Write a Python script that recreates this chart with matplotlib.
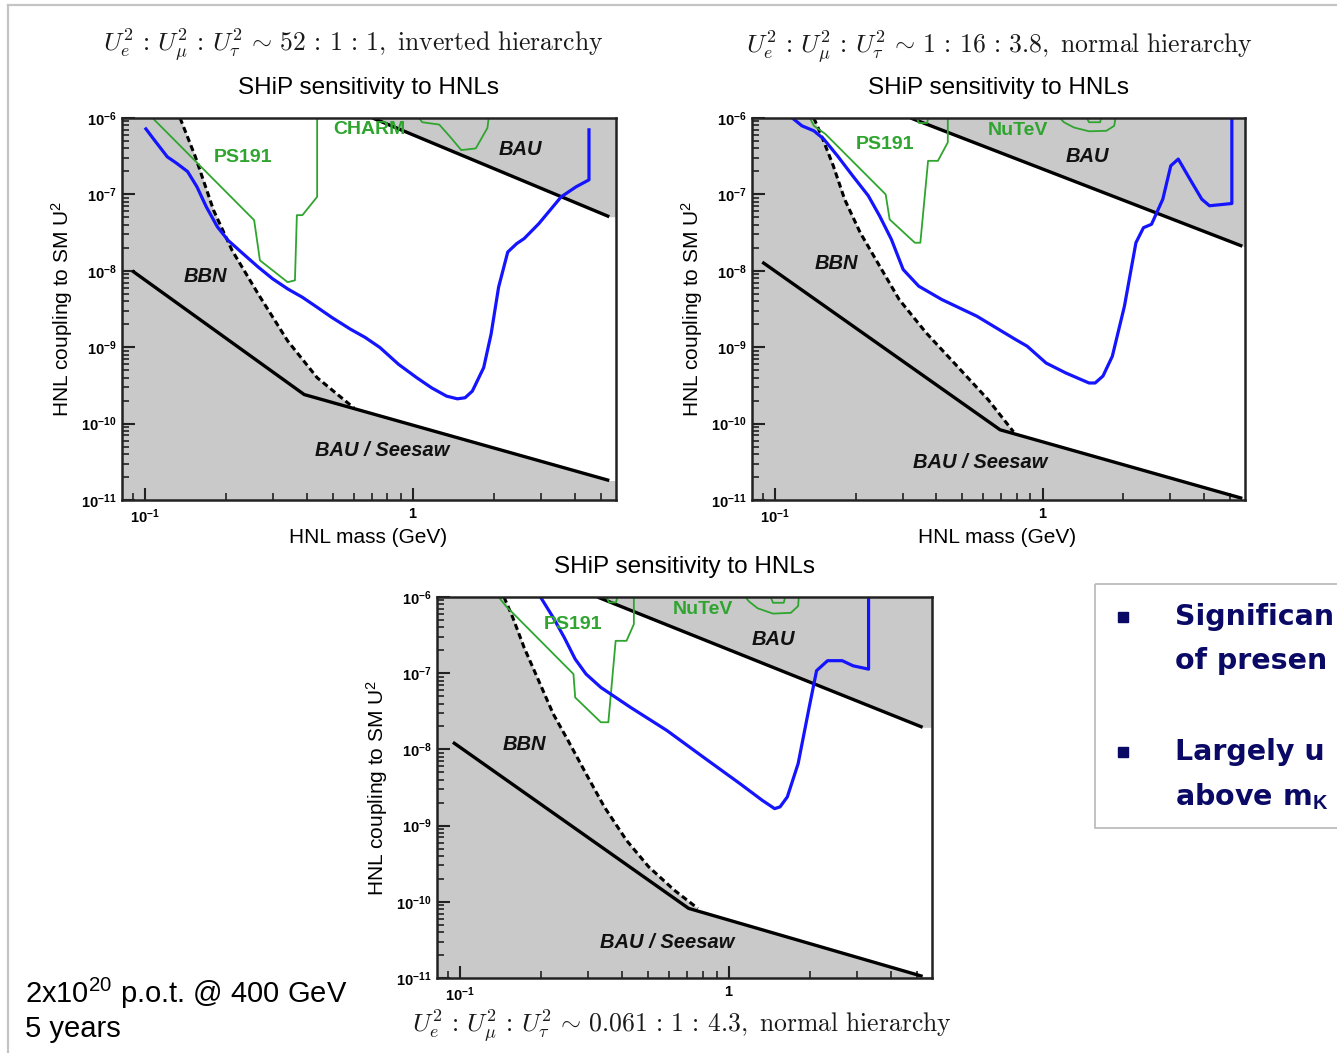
import numpy as np
import matplotlib
matplotlib.use('Agg')
import matplotlib.pyplot as plt
from matplotlib.ticker import LogLocator, FixedLocator, FixedFormatter, NullFormatter, FuncFormatter
from matplotlib.patches import Rectangle

plt.rcParams['font.family'] = ['Liberation Sans', 'DejaVu Sans']
plt.rcParams['mathtext.fontset'] = 'custom'
plt.rcParams['mathtext.rm'] = 'Liberation Sans'
plt.rcParams['mathtext.it'] = 'Liberation Sans:italic'
plt.rcParams['mathtext.bf'] = 'Liberation Sans:bold'

# ---------------- data: panel 1 (inverted hierarchy 52:1:1) ----------------
p1_sens_m = [0.1007, 0.108, 0.121, 0.131, 0.144, 0.156, 0.169, 0.186, 0.204, 0.232, 0.264, 0.299, 0.340,
             0.386, 0.438, 0.497, 0.583, 0.662, 0.751, 0.881, 1.03, 1.17, 1.33, 1.46, 1.56, 1.66, 1.83,
             1.95, 2.08, 2.25, 2.43, 2.59, 2.94, 3.56, 4.05, 4.52, 4.52]
p1_sens_u = [7.2e-7, 5.2e-7, 3.1e-7, 2.56e-7, 1.99e-7, 1.26e-7, 6.9e-8, 3.76e-8, 2.5e-8, 1.67e-8, 1.12e-8,
             7.85e-9, 5.8e-9, 4.5e-9, 3.33e-9, 2.45e-9, 1.72e-9, 1.34e-9, 9.9e-10, 5.97e-10, 3.99e-10,
             2.94e-10, 2.29e-10, 2.11e-10, 2.18e-10, 2.66e-10, 5.4e-10, 1.48e-9, 6.1e-9, 1.76e-8, 2.27e-8,
             2.64e-8, 4.15e-8, 9.3e-8, 1.26e-7, 1.55e-7, 7.0e-7]
p1_ps191_m = [0.1066, 0.255, 0.268, 0.340, 0.362, 0.368, 0.386, 0.438, 0.438]
p1_ps191_u = [1e-6, 4.6e-8, 1.37e-8, 7.1e-9, 7.5e-9, 5.35e-8, 5.35e-8, 9.3e-8, 1e-6]
p1_charm_m = [1.05, 1.08, 1.25, 1.37, 1.51, 1.71, 1.89, 1.91]
p1_charm_u = [1e-6, 8.8e-7, 8.2e-7, 5.7e-7, 3.8e-7, 4.0e-7, 7.4e-7, 1e-6]
p1_bbn_m = [0.135, 0.154, 0.180, 0.211, 0.264, 0.340, 0.438, 0.601]
p1_bbn_u = [1e-6, 3.1e-7, 6.2e-8, 1.85e-8, 4.98e-9, 1.21e-9, 3.99e-10, 1.6e-10]
p1_bau_m = [0.705, 5.38]
p1_bau_u = [1e-6, 5.1e-8]
p1_seesaw_m = [0.0895, 0.392, 5.38]
p1_seesaw_u = [1.0e-8, 2.4e-10, 1.8e-11]

# ---------------- data: panel 2 (normal hierarchy 1:16:3.8) ----------------
p2_sens_m = [0.116, 0.126, 0.1396, 0.152, 0.171, 0.195, 0.223, 0.246, 0.272, 0.301, 0.344, 0.420, 0.567,
             0.792, 0.875, 1.03, 1.22, 1.49, 1.57, 1.68, 1.82, 2.02, 2.23, 2.38, 2.55, 2.81, 3.01, 3.21,
             3.55, 3.93, 4.20, 5.09, 5.09]
p2_sens_u = [1e-6, 7.9e-7, 6.8e-7, 5.3e-7, 3.2e-7, 1.75e-7, 9.6e-8, 5.2e-8, 2.58e-8, 1.04e-8, 6.3e-9,
             4.2e-9, 2.55e-9, 1.26e-9, 1.03e-9, 6.2e-10, 4.6e-10, 3.4e-10, 3.4e-10, 4.2e-10, 7.6e-10,
             3.44e-9, 2.33e-8, 3.67e-8, 4.06e-8, 8.65e-8, 2.37e-7, 2.9e-7, 1.58e-7, 8.65e-8, 7.1e-8,
             7.6e-8, 1e-6]
p2_ps191_m = [0.135, 0.1396, 0.154, 0.259, 0.268, 0.333, 0.349, 0.373, 0.406, 0.442, 0.442]
p2_ps191_u = [1e-6, 7.9e-7, 6.2e-7, 1.0e-7, 4.7e-8, 2.33e-8, 2.33e-8, 2.75e-7, 2.75e-7, 4.8e-7, 1e-6]
p2_ps191b_m = [0.338, 0.345, 0.370, 0.373]
p2_ps191b_u = [1e-6, 8.6e-7, 8.6e-7, 1e-6]
p2_nutev_m = [1.16, 1.20, 1.31, 1.49, 1.73, 1.85, 1.87]
p2_nutev_u = [1e-6, 8.8e-7, 7.5e-7, 6.7e-7, 6.8e-7, 7.9e-7, 1e-6]
p2_nutevb_m = [1.46, 1.49, 1.64, 1.65]
p2_nutevb_u = [1e-6, 8.8e-7, 8.8e-7, 1e-6]
p2_bbn_m = [0.1396, 0.149, 0.165, 0.182, 0.208, 0.246, 0.291, 0.367, 0.480, 0.626, 0.778]
p2_bbn_u = [1e-6, 5.9e-7, 2.37e-7, 8.6e-8, 3.16e-8, 1.15e-8, 4.2e-9, 1.54e-9, 5.6e-10, 2.05e-10, 7.8e-11]
p2_bau_m = [0.321, 5.57]
p2_bau_u = [1e-6, 2.1e-8]
p2_seesaw_m = [0.0896, 0.693, 5.57]
p2_seesaw_u = [1.3e-8, 8.3e-11, 1.05e-11]

# ---------------- data: panel 3 (normal hierarchy 0.061:1:4.3) ----------------
p3_sens_m = [0.199, 0.222, 0.244, 0.268, 0.294, 0.334, 0.430, 0.588, 0.804, 1.10, 1.33, 1.48, 1.55,
             1.65, 1.81, 1.99, 2.12, 2.33, 2.64, 2.90, 3.31, 3.31]
p3_sens_u = [1e-6, 5.37e-7, 2.94e-7, 1.53e-7, 9.75e-8, 6.5e-8, 3.57e-8, 1.77e-8, 7.9e-9, 3.55e-9,
             2.15e-9, 1.67e-9, 1.76e-9, 2.38e-9, 6.5e-9, 3.57e-8, 1.08e-7, 1.46e-7, 1.46e-7, 1.25e-7,
             1.13e-7, 1e-6]
p3_ps191_m = [0.139, 0.148, 0.264, 0.268, 0.334, 0.356, 0.379, 0.416, 0.443, 0.443]
p3_ps191_u = [1e-6, 7.6e-7, 9.75e-8, 4.8e-8, 2.27e-8, 2.27e-8, 2.66e-7, 2.66e-7, 4.4e-7, 1e-6]
p3_ps191b_m = [0.350, 0.358, 0.380, 0.385]
p3_ps191b_u = [1e-6, 8.5e-7, 8.5e-7, 1e-6]
p3_nutev_m = [1.15, 1.19, 1.28, 1.46, 1.70, 1.81, 1.82]
p3_nutev_u = [1e-6, 8.7e-7, 7.1e-7, 6.05e-7, 6.2e-7, 7.6e-7, 1e-6]
p3_nutevb_m = [1.43, 1.46, 1.60, 1.62]
p3_nutevb_u = [1e-6, 8.4e-7, 8.4e-7, 1e-6]
p3_bbn_m = [0.1456, 0.157, 0.173, 0.196, 0.222, 0.252, 0.294, 0.344, 0.416, 0.502, 0.625, 0.766]
p3_bbn_u = [1e-6, 5.37e-7, 2.17e-7, 7.96e-8, 2.92e-8, 1.31e-8, 4.8e-9, 1.76e-9, 6.4e-10, 2.9e-10,
            1.43e-10, 8.2e-11]
p3_bau_m = [0.324, 5.26]
p3_bau_u = [1e-6, 1.95e-8]
p3_seesaw_m = [0.094, 0.708, 5.26]
p3_seesaw_u = [1.24e-8, 8.2e-11, 1.05e-11]

# region labels: (text, mass, U2, colour key)
p1_labels = [('PS191', 0.232, 3.0e-7, 'g'), ('CHARM', 0.684, 7.0e-7, 'g'), ('BAU', 2.5, 3.9e-7, 'k'),
             ('BBN', 0.168, 8.3e-9, 'k'), ('BAU / Seesaw', 0.766, 4.5e-11, 'k')]
p2_labels = [('PS191', 0.257, 4.5e-7, 'g'), ('NuTeV', 0.81, 6.9e-7, 'g'), ('BAU', 1.47, 3.1e-7, 'k'),
             ('BBN', 0.170, 1.23e-8, 'k'), ('BAU / Seesaw', 0.584, 3.1e-11, 'k')]
p3_labels = [('PS191', 0.264, 4.4e-7, 'g'), ('NuTeV', 0.80, 6.9e-7, 'g'), ('BAU', 1.46, 2.8e-7, 'k'),
             ('BBN', 0.173, 1.17e-8, 'k'), ('BAU / Seesaw', 0.588, 2.9e-11, 'k')]

titles_math = [r'$U_e^2 \,:\, U_\mu^2 \,:\, U_\tau^2 \,\sim\, 52 \,:\, 1 \,:\, 1,\ \mathrm{inverted\ hierarchy}$',
               r'$U_e^2 \,:\, U_\mu^2 \,:\, U_\tau^2 \,\sim\, 1 \,:\, 16 \,:\, 3.8,\ \mathrm{normal\ hierarchy}$',
               r'$U_e^2 \,:\, U_\mu^2 \,:\, U_\tau^2 \,\sim\, 0.061 \,:\, 1 \,:\, 4.3,\ \mathrm{normal\ hierarchy}$']
panel_title = 'SHiP sensitivity to HNLs'
xlabel = 'HNL mass (GeV)'
ylabel = 'HNL coupling to SM U$^2$'
xtick_vals = [0.1, 1]
xtick_labels = [r'$\mathbf{10^{-1}}$', r'$\mathbf{1}$']
note_lines = ['2x10$^{20}$ p.o.t. @ 400 GeV', '5 years']
bullet_lines = ['Significan', 'of presen', 'Largely u', r'above m$_\mathbf{K}$']

GRAY = '#c9c9c9'
GREEN = '#2fa52f'
BLUE = '#1414ff'
NAVY = '#0a0a66'
XLIM = (0.082, 5.7)
YLIM = (1e-11, 1e-6)

W, H = 1337, 1053
fig = plt.figure(figsize=(W / 100, H / 100), dpi=100)

# background slide layer
bg = fig.add_axes([0, 0, 1, 1], zorder=-5)
bg.set_xlim(0, W)
bg.set_ylim(H, 0)
bg.axis('off')
bg.plot([8, W], [5, 5], color='#c4c4c4', lw=1.6)
bg.plot([8, 8], [5, H], color='#c4c4c4', lw=1.6)


def draw_panel(rect, sens, ps, ps_b, exp, exp_b, bbn, bau, seesaw, labels, with_xlabel=True):
    ax = fig.add_axes(rect)
    ax.set_xscale('log')
    ax.set_yscale('log')
    ax.set_xlim(XLIM)
    ax.set_ylim(YLIM)
    ax.set_facecolor(GRAY)

    # white (allowed) region: right of BBN, above seesaw, below BAU
    xg = np.logspace(np.log10(XLIM[0]), np.log10(XLIM[1]), 1500)
    lg = np.log10(xg)
    blx, bly = np.log10(bbn[0]), np.log10(bbn[1])
    low_bbn = np.where((lg >= blx[0]) & (lg <= blx[-1]), np.interp(lg, blx, bly), -20)
    low_ss = np.interp(lg, np.log10(seesaw[0]), np.log10(seesaw[1]))
    low = np.maximum(low_bbn, low_ss)
    up = np.minimum(np.interp(lg, np.log10(bau[0]), np.log10(bau[1])), -6)
    valid = (lg >= blx[0]) & (up > low)
    low = np.where(valid, low, -11)
    up = np.where(valid, up, -11)
    ax.fill_between(xg, 10 ** low, 10 ** up, where=valid, color='white', lw=0, zorder=1)

    ax.plot(seesaw[0], seesaw[1], color='black', lw=2.4, zorder=3, solid_capstyle='butt')
    ax.plot(bau[0], bau[1], color='black', lw=2.4, zorder=3, solid_capstyle='butt')
    ax.plot(bbn[0], bbn[1], color='black', lw=2.2, ls=(0, (2.0, 1.2)), zorder=3)
    ax.plot(ps[0], ps[1], color=GREEN, lw=1.3, zorder=4)
    if ps_b is not None:
        ax.plot(ps_b[0], ps_b[1], color=GREEN, lw=1.3, zorder=4)
    ax.plot(exp[0], exp[1], color=GREEN, lw=1.3, zorder=4)
    if exp_b is not None:
        ax.plot(exp_b[0], exp_b[1], color=GREEN, lw=1.3, zorder=4)
    ax.plot(sens[0], sens[1], color=BLUE, lw=2.3, zorder=5)

    for txt, xm, yu, c in labels:
        if c == 'g':
            ax.text(xm, yu, txt, color=GREEN, fontsize=14, fontweight='bold', ha='center', va='center', zorder=6)
        else:
            ax.text(xm, yu, txt, color='#111111', fontsize=14.5, fontweight='bold', fontstyle='italic',
                    ha='center', va='center', zorder=6)

    for s in ax.spines.values():
        s.set_linewidth(1.8)
        s.set_color('#222222')
        s.set_zorder(7)
    ax.yaxis.set_major_locator(LogLocator(base=10, numticks=12))
    ax.yaxis.set_minor_locator(LogLocator(base=10, subs=np.arange(2, 10), numticks=12))
    ax.yaxis.set_major_formatter(FuncFormatter(lambda v, p: r'$\mathbf{10^{%d}}$' % int(round(np.log10(v)))))
    ax.yaxis.set_minor_formatter(NullFormatter())
    ax.xaxis.set_major_locator(FixedLocator(xtick_vals))
    ax.xaxis.set_major_formatter(FixedFormatter(xtick_labels))
    ax.xaxis.set_minor_locator(LogLocator(base=10, subs=np.arange(2, 10), numticks=12))
    ax.xaxis.set_minor_formatter(NullFormatter())
    ax.tick_params(which='both', direction='in', top=False, right=False, color='#222222', zorder=8)
    ax.tick_params(which='major', length=9, width=1.5, labelsize=10.5, pad=4)
    ax.tick_params(which='minor', length=5, width=1.2)
    ax.tick_params(axis='x', which='major', pad=5)

    ax.set_ylabel(ylabel, fontsize=15)
    ax.yaxis.set_label_coords(-0.095, 0.5)
    if with_xlabel:
        ax.set_xlabel(xlabel, fontsize=15)
        ax.xaxis.set_label_coords(0.498, -0.073)
    ax.text(0.5, 1.0785, panel_title, transform=ax.transAxes, ha='center', va='center', fontsize=17.5)
    return ax


ax1 = draw_panel([122 / W, 1 - 500 / H, 494 / W, 382 / H],
                 (p1_sens_m, p1_sens_u), (p1_ps191_m, p1_ps191_u), None,
                 (p1_charm_m, p1_charm_u), None,
                 (p1_bbn_m, p1_bbn_u), (p1_bau_m, p1_bau_u), (p1_seesaw_m, p1_seesaw_u), p1_labels)
ax2 = draw_panel([752 / W, 1 - 500 / H, 493 / W, 382 / H],
                 (p2_sens_m, p2_sens_u), (p2_ps191_m, p2_ps191_u), (p2_ps191b_m, p2_ps191b_u),
                 (p2_nutev_m, p2_nutev_u), (p2_nutevb_m, p2_nutevb_u),
                 (p2_bbn_m, p2_bbn_u), (p2_bau_m, p2_bau_u), (p2_seesaw_m, p2_seesaw_u), p2_labels)
ax3 = draw_panel([437 / W, 1 - 978 / H, 495 / W, 381 / H],
                 (p3_sens_m, p3_sens_u), (p3_ps191_m, p3_ps191_u), (p3_ps191b_m, p3_ps191b_u),
                 (p3_nutev_m, p3_nutev_u), (p3_nutevb_m, p3_nutevb_u),
                 (p3_bbn_m, p3_bbn_u), (p3_bau_m, p3_bau_u), (p3_seesaw_m, p3_seesaw_u), p3_labels,
                 with_xlabel=False)

# hierarchy captions (LaTeX style)
for (cx, cy), t in zip([(353, 45), (1000, 47), (682, 1026)], titles_math):
    bg.text(cx, cy, t, math_fontfamily='cm', fontsize=18.5, ha='center', va='center', color='#1a1a1a')

# bottom-left note
bg.text(25, 993, note_lines[0], fontsize=21, va='center', ha='left', color='black')
bg.text(25, 1029, note_lines[1], fontsize=21, va='center', ha='left', color='black')

# right-hand text box (cut by slide edge)
bg.add_patch(Rectangle((1095, 584), 260, 244, fill=False, edgecolor='#b8b8b8', lw=1.2))
bg.plot([1123, 1123], [617, 752], ls='none', marker='s', ms=7, color=NAVY)
for yy, t in zip([617, 661, 752, 797], bullet_lines):
    bg.text(1175, yy, t, fontsize=20.5, fontweight='bold', color=NAVY, va='center', ha='left',
            family=['DejaVu Sans'])

fig.savefig('out.png', dpi=100)
